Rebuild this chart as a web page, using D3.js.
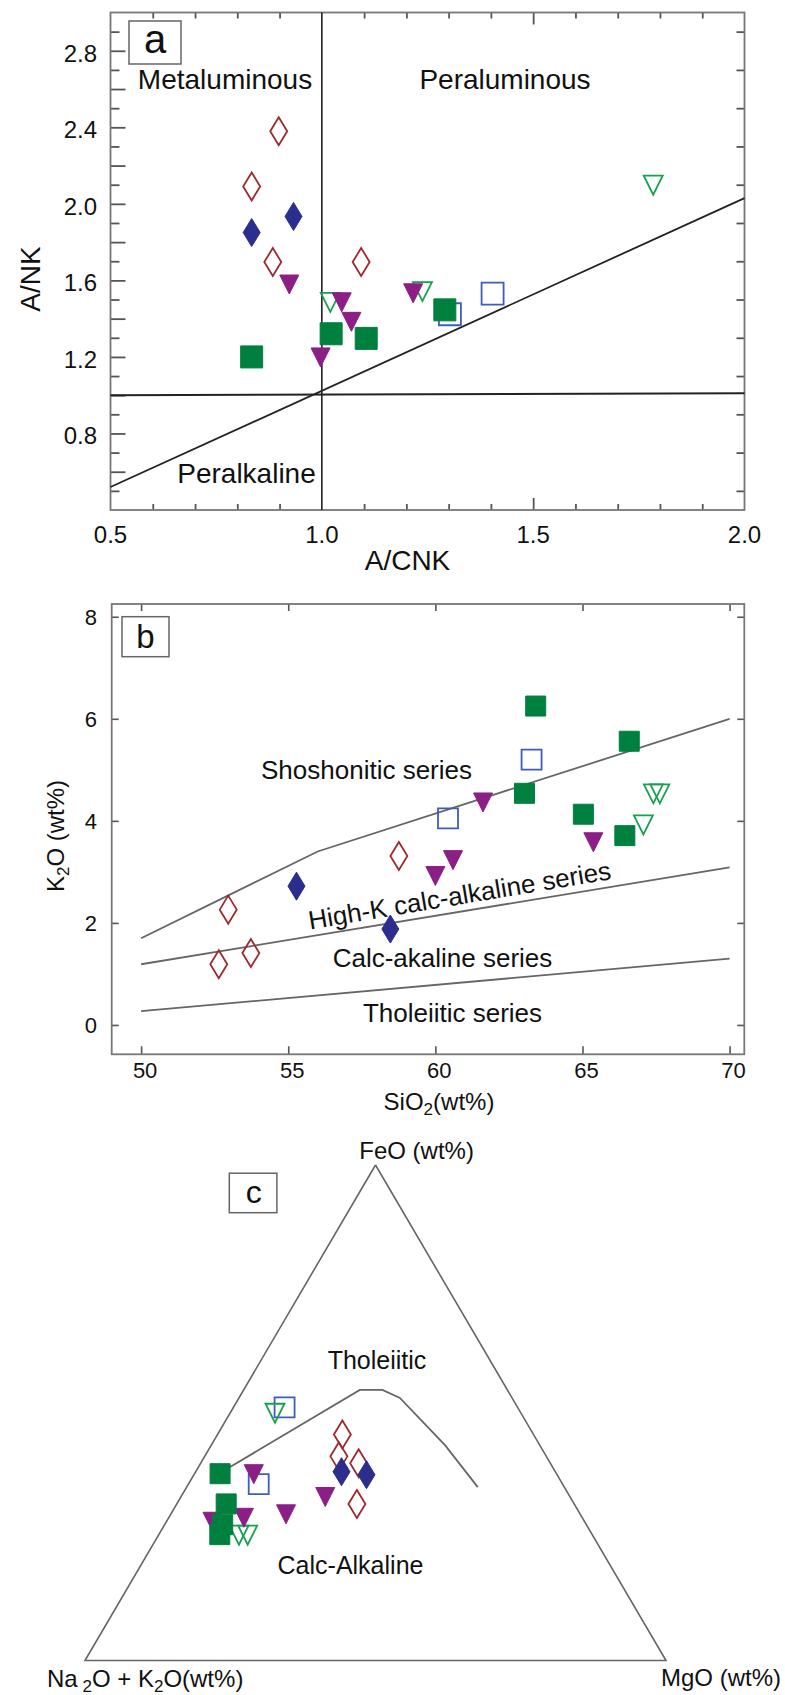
<!DOCTYPE html>
<html>
<head>
<meta charset="utf-8">
<script src="https://cdn.jsdelivr.net/npm/d3@7"></script>
<style>
  body { margin: 0; background: #fff; }
  svg text { font-family: "Liberation Sans", Arial, sans-serif; fill: #111; }
</style>
</head>
<body>
<svg id="chart" width="785" height="1695"></svg>
<script>
// series keys: os open square, ot open triangle, od open diamond,
// fd filled diamond, ft filled triangle, fs filled square (draw order)
const seriesKeys = ["os", "ot", "od", "fd", "ft", "fs"];

// panel a: [series, A/CNK, A/NK]
const aData = [
  ["os", 1.303, 1.423], ["os", 1.404, 1.531],
  ["ot", 1.020, 1.488], ["ot", 1.238, 1.544], ["ot", 1.784, 2.100],
  ["od", 0.898, 2.379], ["od", 0.834, 2.091], ["od", 0.884, 1.696], ["od", 1.093, 1.696],
  ["fd", 0.834, 1.850], ["fd", 0.933, 1.934],
  ["ft", 0.923, 1.581], ["ft", 1.047, 1.488], ["ft", 1.070, 1.386], ["ft", 0.997, 1.200], ["ft", 1.216, 1.535],
  ["fs", 0.834, 1.200], ["fs", 1.022, 1.321], ["fs", 1.105, 1.297], ["fs", 1.291, 1.446]
];

// panel b: [series, SiO2, K2O]
const bData = [
  ["os", 63.27, 5.20], ["os", 60.43, 4.05],
  ["ot", 67.07, 3.93], ["ot", 67.41, 4.54], ["ot", 67.63, 4.54],
  ["od", 52.96, 2.26], ["od", 53.73, 1.41], ["od", 52.64, 1.19], ["od", 58.76, 3.31],
  ["fd", 55.28, 2.72], ["fd", 58.47, 1.88],
  ["ft", 60.00, 2.93], ["ft", 60.60, 3.24], ["ft", 61.62, 4.37], ["ft", 65.37, 3.59],
  ["fs", 63.41, 6.25], ["fs", 66.59, 5.56], ["fs", 63.03, 4.54], ["fs", 65.03, 4.13], ["fs", 66.44, 3.71]
];

// panel c: [series, FeO, Na2O+K2O, MgO] in %
const cData = [
  ["os", 51.1, 40.1, 8.8], ["os", 35.6, 52.3, 12.1],
  ["ot", 50.0, 42.3, 7.7], ["ot", 25.4, 60.8, 13.8], ["ot", 25.4, 59.3, 15.3],
  ["od", 45.6, 32.9, 21.5], ["od", 41.2, 35.7, 23.1], ["od", 39.8, 33.0, 27.2], ["od", 31.6, 37.4, 31.0],
  ["fd", 38.1, 36.8, 25.1], ["fd", 37.5, 32.8, 29.7],
  ["ft", 37.7, 52.1, 10.2], ["ft", 33.1, 42.1, 24.8], ["ft", 29.6, 50.6, 19.8], ["ft", 28.9, 58.2, 12.9], ["ft", 28.1, 64.0, 7.9],
  ["fs", 37.7, 57.9, 4.4], ["fs", 31.6, 59.9, 8.5], ["fs", 27.4, 62.6, 10.0], ["fs", 25.4, 64.1, 10.5]
];

// boundary lines
const aDiagonal = [[0.5, 0.52], [2.0, 2.03]];
const bShoLine = [[50, 1.7], [53, 2.55], [56, 3.4], [70, 6.0]];
const bHkLine = [[50, 1.19], [70, 3.09]];
const bThLine = [[50, 0.27], [70, 1.3]];
const cBoundary = [[38.9, 55.8, 5.3], [54.6, 25.4, 20.0], [54.6, 21.5, 23.9], [53.0, 19.3, 27.7], [43.4, 16.3, 40.3], [35.0, 14.9, 50.1]];

// tick labels
const aXTicks = [0.5, 1.0, 1.5, 2.0];
const aYTicks = [0.8, 1.2, 1.6, 2.0, 2.4, 2.8];
const bXTicks = [50, 55, 60, 65, 70];
const bYTicks = [0, 2, 4, 6, 8];

const markStyle = {
  os: { shape: "square", stroke: "#3F5CC0", fill: "none" },
  ot: { shape: "triangle", stroke: "#17A04E", fill: "none" },
  od: { shape: "diamond", stroke: "#9E2A2F", fill: "none" },
  fd: { shape: "diamond", stroke: "#2B2E8C", fill: "#2B2E8C" },
  ft: { shape: "triangle", stroke: "#8B1F86", fill: "#8B1F86" },
  fs: { shape: "square", stroke: "#00803F", fill: "#00803F" }
};

function shapePath(shape, half) {
  if (shape === "diamond") return "M0,-14L8.5,0L0,14L-8.5,0Z";
  if (shape === "triangle") return "M-9.5,-9L9.5,-9L0,10Z";
  return `M${-half},${-half}H${half}V${half}H${-half}Z`;
}

function drawMarks(g, rows, px, py, half) {
  const sorted = rows.slice().sort((a, b) => seriesKeys.indexOf(a[0]) - seriesKeys.indexOf(b[0]));
  g.selectAll("path.mark")
    .data(sorted)
    .join("path")
    .attr("class", "mark")
    .attr("transform", d => `translate(${px(d)},${py(d)})`)
    .attr("d", d => shapePath(markStyle[d[0]].shape, half))
    .attr("fill", d => markStyle[d[0]].fill)
    .attr("stroke", d => markStyle[d[0]].stroke)
    .attr("stroke-width", d => markStyle[d[0]].fill === "none" ? 1.8 : 1);
}

function labelBox(g, x, y, w, h, txt, size, bx, by) {
  g.append("rect").attr("x", x).attr("y", y).attr("width", w).attr("height", h)
    .attr("fill", "#fff").attr("stroke", "#666").attr("stroke-width", 1.5);
  g.append("text").attr("x", bx).attr("y", by).attr("text-anchor", "middle")
    .attr("font-size", size).text(txt);
}

const svg = d3.select("#chart");

// ---------------- panel a ----------------
const ga = svg.append("g");
const ax = d3.scaleLinear().domain([0.5, 2.0]).range([110.5, 744.5]);
const ay = d3.scaleLinear().domain([0.4, 3.0]).range([510, 12.5]);

const tenthsY = d3.range(5, 30).map(i => i / 10);
const tenthsX = d3.range(6, 20).map(i => i / 10);

// left ticks: long at even tenths, short at odd
ga.append("g").attr("transform", `translate(${ax(0.5)},0)`)
  .call(d3.axisLeft(ay).tickValues(tenthsY.filter((v, i) => i % 2 === 1)).tickSize(-15).tickFormat(""));
ga.append("g").attr("transform", `translate(${ax(0.5)},0)`)
  .call(d3.axisLeft(ay).tickValues(tenthsY.filter((v, i) => i % 2 === 0)).tickSize(-9).tickFormat(""));
// right ticks: odd tenths
ga.append("g").attr("transform", `translate(${ax(2.0)},0)`)
  .call(d3.axisRight(ay).tickValues(tenthsY.filter((v, i) => i % 2 === 0)).tickSize(-8).tickFormat(""));
// top / bottom ticks
[[d3.axisTop, ay(3.0)], [d3.axisBottom, ay(0.4)]].forEach(([fn, yy]) => {
  ga.append("g").attr("transform", `translate(0,${yy})`)
    .call(fn(ax).tickValues(tenthsX.filter(v => Math.abs(v - 1.5) > 1e-6 && Math.abs(v - 1.0) > 1e-6)).tickSize(-6).tickFormat(""));
  ga.append("g").attr("transform", `translate(0,${yy})`)
    .call(fn(ax).tickValues([1.5]).tickSize(-12).tickFormat(""));
});
ga.selectAll(".domain").remove();
ga.selectAll(".tick line").attr("stroke", "#555").attr("stroke-width", 1.8);

ga.append("rect").attr("x", ax(0.5)).attr("y", ay(3.0))
  .attr("width", ax(2.0) - ax(0.5)).attr("height", ay(0.4) - ay(3.0))
  .attr("fill", "none").attr("stroke", "#777").attr("stroke-width", 1.8);

// boundary lines
const lineA = d3.line().x(d => ax(d[0])).y(d => ay(d[1]));
ga.append("path").attr("d", lineA([[1.0, 3.0], [1.0, 0.4]])).attr("stroke", "#222").attr("stroke-width", 1.6).attr("fill", "none");
ga.append("path").attr("d", lineA([[0.5, 1.0], [2.0, 1.01]])).attr("stroke", "#222").attr("stroke-width", 2).attr("fill", "none");
ga.append("path").attr("d", lineA(aDiagonal)).attr("stroke", "#222").attr("stroke-width", 1.8).attr("fill", "none");

ga.selectAll("text.yt").data(aYTicks).join("text").attr("class", "yt")
  .attr("x", 97).attr("y", d => ay(d) + 11).attr("text-anchor", "end")
  .attr("font-size", 24).text(d => d.toFixed(1));
ga.selectAll("text.xt").data(aXTicks).join("text").attr("class", "xt")
  .attr("x", d => ax(d)).attr("y", 543).attr("text-anchor", "middle")
  .attr("font-size", 24).text(d => d.toFixed(1));

ga.append("text").attr("x", 407.5).attr("y", 570).attr("text-anchor", "middle").attr("font-size", 28).text("A/CNK");
ga.append("text").attr("transform", "translate(40,279) rotate(-90)").attr("text-anchor", "middle").attr("font-size", 28).text("A/NK");

ga.append("text").attr("x", 225).attr("y", 89).attr("text-anchor", "middle").attr("font-size", 28).text("Metaluminous");
ga.append("text").attr("x", 505).attr("y", 89).attr("text-anchor", "middle").attr("font-size", 28).text("Peraluminous");
ga.append("text").attr("x", 246.5).attr("y", 483).attr("text-anchor", "middle").attr("font-size", 28).text("Peralkaline");

labelBox(ga, 129, 21, 52, 43, "a", 40, 155, 53);

drawMarks(ga, aData, d => ax(d[1]), d => ay(d[2]), 11);

// ---------------- panel b ----------------
const gb = svg.append("g");
const bx = d3.scaleLinear().domain([49, 70.5]).range([111.7, 744.3]);
const by = d3.scaleLinear().domain([-0.575, 8.25]).range([1054.3, 604]);

gb.append("g").attr("transform", `translate(${bx(49)},0)`)
  .call(d3.axisLeft(by).tickValues(bYTicks).tickSize(-7).tickFormat(""));
gb.append("g").attr("transform", `translate(${bx(70.5)},0)`)
  .call(d3.axisRight(by).tickValues(bYTicks).tickSize(-7).tickFormat(""));
gb.append("g").attr("transform", `translate(0,${by(8.25)})`)
  .call(d3.axisTop(bx).tickValues(bXTicks).tickSize(-7).tickFormat(""));
gb.append("g").attr("transform", `translate(0,${by(-0.575)})`)
  .call(d3.axisBottom(bx).tickValues(bXTicks).tickSize(-8).tickFormat(""));
gb.selectAll(".domain").remove();
gb.selectAll(".tick line").attr("stroke", "#555").attr("stroke-width", 1.6);

gb.append("rect").attr("x", bx(49)).attr("y", by(8.25))
  .attr("width", bx(70.5) - bx(49)).attr("height", by(-0.575) - by(8.25))
  .attr("fill", "none").attr("stroke", "#777").attr("stroke-width", 1.8);

const lineB = d3.line().x(d => bx(d[0])).y(d => by(d[1]));
[bShoLine, bHkLine, bThLine].forEach(l => {
  gb.append("path").attr("d", lineB(l)).attr("stroke", "#666").attr("stroke-width", 1.8).attr("fill", "none");
});

gb.selectAll("text.yt").data(bYTicks).join("text").attr("class", "yt")
  .attr("x", 97).attr("y", d => by(d) + 8).attr("text-anchor", "end")
  .attr("font-size", 22).text(d => d);
gb.selectAll("text.xt").data(bXTicks).join("text").attr("class", "xt")
  .attr("x", d => bx(d) + 4).attr("y", 1078).attr("text-anchor", "middle")
  .attr("font-size", 22).text(d => d);

const k2o = gb.append("text").attr("transform", "translate(64,836) rotate(-90)")
  .attr("text-anchor", "middle").attr("font-size", 24);
k2o.append("tspan").text("K");
k2o.append("tspan").attr("font-size", 17).attr("dy", 5).text("2");
k2o.append("tspan").attr("dy", -5).text("O  (wt%)");

const sio2 = gb.append("text").attr("x", 439).attr("y", 1110).attr("text-anchor", "middle").attr("font-size", 24);
sio2.append("tspan").text("SiO");
sio2.append("tspan").attr("font-size", 17).attr("dy", 5).text("2");
sio2.append("tspan").attr("dy", -5).text("(wt%)");

gb.append("text").attr("x", 366.5).attr("y", 778.6).attr("text-anchor", "middle").attr("font-size", 26).text("Shoshonitic series");
gb.append("text").attr("transform", "translate(459.5,895.4) rotate(-9.5)").attr("text-anchor", "middle")
  .attr("dominant-baseline", "central").attr("font-size", 26).text("High-K calc-alkaline series");
gb.append("text").attr("x", 442.5).attr("y", 966.8).attr("text-anchor", "middle").attr("font-size", 26).text("Calc-akaline series");
gb.append("text").attr("x", 452.5).attr("y", 1022).attr("text-anchor", "middle").attr("font-size", 26).text("Tholeiitic series");

labelBox(gb, 122, 616.7, 47, 40, "b", 33, 145.5, 647.7);

drawMarks(gb, bData, d => bx(d[1]), d => by(d[2]), 10);

// ---------------- panel c (ternary) ----------------
const gc = svg.append("g");
const tx = d3.scaleLinear().domain([0, 100]).range([85, 666]);
const ty = d3.scaleLinear().domain([0, 100]).range([1660.5, 1165]);
// F = FeO (apex), A = alkalis (left), M = MgO (right)
const terX = (f, a, m) => tx(m + f / 2);
const terY = (f, a, m) => ty(f);

const lineC = d3.line().x(d => terX(d[0], d[1], d[2])).y(d => terY(d[0], d[1], d[2]));
gc.append("path").attr("d", lineC([[100, 0, 0], [0, 100, 0], [0, 0, 100], [100, 0, 0]]))
  .attr("stroke", "#666").attr("stroke-width", 1.6).attr("fill", "none");
gc.append("path").attr("d", lineC(cBoundary))
  .attr("stroke", "#666").attr("stroke-width", 1.8).attr("fill", "none");

gc.append("text").attr("x", 416.6).attr("y", 1159).attr("text-anchor", "middle").attr("font-size", 24).text("FeO (wt%)");
gc.append("text").attr("x", 377).attr("y", 1368.7).attr("text-anchor", "middle").attr("font-size", 25).text("Tholeiitic");
gc.append("text").attr("x", 350.5).attr("y", 1574).attr("text-anchor", "middle").attr("font-size", 25).text("Calc-Alkaline");
gc.append("text").attr("x", 721).attr("y", 1686).attr("text-anchor", "middle").attr("font-size", 24).text("MgO (wt%)");
const alk = gc.append("text").attr("x", 145.2).attr("y", 1687).attr("text-anchor", "middle").attr("font-size", 24);
alk.append("tspan").text("Na");
alk.append("tspan").attr("font-size", 17).attr("dy", 5).text(" 2");
alk.append("tspan").attr("dy", -5).text("O + K");
alk.append("tspan").attr("font-size", 17).attr("dy", 5).text("2");
alk.append("tspan").attr("dy", -5).text("O(wt%)");

labelBox(gc, 229.3, 1173.2, 47.6, 39.5, "c", 32, 253.7, 1203.3);

drawMarks(gc, cData, d => terX(d[1], d[2], d[3]), d => terY(d[1], d[2], d[3]), 10);
</script>
</body>
</html>
